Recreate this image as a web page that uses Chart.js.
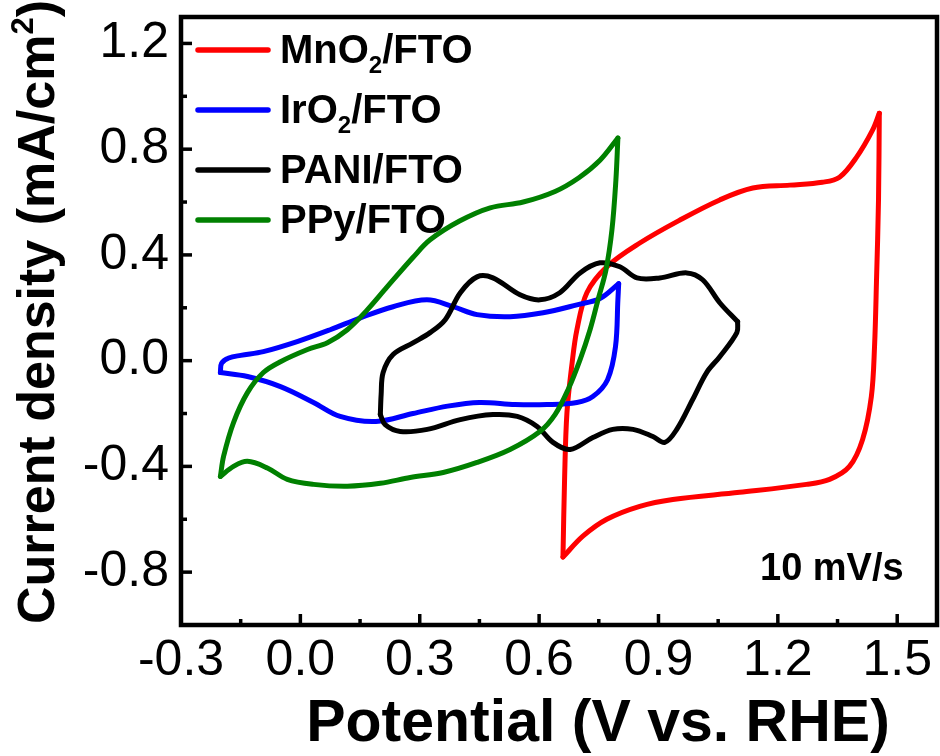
<!DOCTYPE html>
<html>
<head>
<meta charset="utf-8">
<script src="https://cdn.jsdelivr.net/npm/chart.js@4.4.1/dist/chart.umd.min.js"></script>
<style>
  html, body { margin: 0; padding: 0; background: #fff; }
  #wrap { width: 940px; height: 756px; }
</style>
</head>
<body>
<div id="wrap"><canvas id="cv" width="940" height="756"></canvas></div>
<script>
  // Axis ticks (potential in V vs. RHE, current density in mA/cm2)
  const xMajorTicks = [-0.3, 0, 0.3, 0.6, 0.9, 1.2, 1.5];
  const xMinorTicks = [-0.15, 0.15, 0.45, 0.75, 1.05, 1.35];
  const yMajorTicks = [-0.8, -0.4, 0, 0.4, 0.8, 1.2];
  const yMinorTicks = [-0.6, -0.2, 0.2, 0.6, 1.0];

  const seriesNames = ['MnO_{2}/FTO', 'IrO_{2}/FTO', 'PANI/FTO', 'PPy/FTO'];
  const seriesColors = ['#ff0000', '#0000ff', '#000000', '#008000'];

  // CV loops, split into forward (anodic) and reverse (cathodic) sweeps: [E, j]
  const mno2Forward = [[0.660, -0.743], [0.664, -0.45], [0.670, -0.196], [0.683, -0.008], [0.695, 0.117],
    [0.720, 0.257], [0.770, 0.355], [0.853, 0.445], [0.954, 0.532], [1.054, 0.608], [1.137, 0.653],
    [1.230, 0.664], [1.312, 0.675], [1.355, 0.694], [1.398, 0.770], [1.438, 0.872], [1.455, 0.936]];
  const mno2Reverse = [[1.455, 0.936], [1.453, 0.608], [1.448, 0.306], [1.443, 0.053], [1.435, -0.136],
    [1.413, -0.298], [1.380, -0.400], [1.330, -0.449], [1.272, -0.468], [1.104, -0.498], [0.936, -0.525],
    [0.853, -0.551], [0.770, -0.600], [0.710, -0.664], [0.660, -0.743]];

  const iro2Forward = [[-0.201, -0.045], [-0.198, -0.010], [-0.180, 0.010], [-0.150, 0.020], [-0.093, 0.034],
    [-0.008, 0.072], [0.075, 0.117], [0.151, 0.162], [0.233, 0.204], [0.318, 0.230], [0.384, 0.204],
    [0.444, 0.174], [0.527, 0.166], [0.610, 0.181], [0.695, 0.211], [0.753, 0.235], [0.800, 0.291]];
  const iro2Reverse = [[0.800, 0.291], [0.798, 0.230], [0.792, 0.053], [0.772, -0.072], [0.735, -0.136],
    [0.695, -0.158], [0.620, -0.166], [0.540, -0.166], [0.450, -0.158], [0.370, -0.172], [0.283, -0.200],
    [0.190, -0.230], [0.100, -0.211], [0.033, -0.158], [-0.050, -0.098], [-0.133, -0.060], [-0.201, -0.045]];

  const paniForward = [[0.201, -0.204], [0.203, -0.128], [0.208, -0.045], [0.233, 0.023], [0.284, 0.068],
    [0.326, 0.106], [0.364, 0.155], [0.402, 0.257], [0.444, 0.317], [0.484, 0.313], [0.552, 0.249],
    [0.602, 0.230], [0.652, 0.257], [0.703, 0.332], [0.753, 0.370], [0.803, 0.355], [0.846, 0.313],
    [0.903, 0.313], [0.971, 0.332], [1.011, 0.306], [1.054, 0.219], [1.099, 0.147]];
  const paniReverse = [[1.099, 0.147], [1.097, 0.106], [1.054, 0.015], [1.021, -0.045], [0.986, -0.147],
    [0.946, -0.260], [0.916, -0.309], [0.886, -0.287], [0.836, -0.260], [0.785, -0.260], [0.735, -0.291],
    [0.678, -0.336], [0.635, -0.309], [0.595, -0.249], [0.545, -0.211], [0.484, -0.204], [0.402, -0.223],
    [0.319, -0.260], [0.251, -0.268], [0.213, -0.242], [0.201, -0.204]];

  const ppyForward = [[-0.201, -0.438], [-0.193, -0.362], [-0.168, -0.234], [-0.133, -0.121], [-0.093, -0.045],
    [-0.050, -0.004], [0.018, 0.042], [0.068, 0.068], [0.118, 0.117], [0.168, 0.192], [0.218, 0.279],
    [0.284, 0.392], [0.326, 0.457], [0.400, 0.528], [0.477, 0.578], [0.560, 0.600], [0.640, 0.640],
    [0.700, 0.692], [0.753, 0.758], [0.798, 0.842]];
  const ppyReverse = [[0.798, 0.842], [0.793, 0.683], [0.783, 0.494], [0.768, 0.343], [0.748, 0.230],
    [0.728, 0.117], [0.703, 0.004], [0.673, -0.109], [0.640, -0.204], [0.602, -0.268], [0.527, -0.336],
    [0.444, -0.385], [0.359, -0.423], [0.276, -0.442], [0.201, -0.464], [0.118, -0.475], [0.033, -0.468],
    [-0.033, -0.449], [-0.083, -0.406], [-0.133, -0.381], [-0.168, -0.400], [-0.201, -0.438]];

  const sweeps = [
    [mno2Forward, mno2Reverse],
    [iro2Forward, iro2Reverse],
    [paniForward, paniReverse],
    [ppyForward, ppyReverse]
  ];

  const FONT = "'Liberation Sans', Arial, Helvetica, sans-serif";

  // "MnO_{2}" -> subscript, "cm^{2}" -> superscript
  function richParts(str) {
    return str.split(/(_\{[^}]*\}|\^\{[^}]*\})/).filter(Boolean).map(s => {
      if (s[0] === '_') return { t: s.slice(2, -1), sub: true };
      if (s[0] === '^') return { t: s.slice(2, -1), sup: true };
      return { t: s };
    });
  }

  function drawRich(ctx, str, x, y, size, align) {
    const parts = richParts(str);
    const fontFor = p => `bold ${(p.sub || p.sup) ? Math.round(size * 0.6) : size}px ${FONT}`;
    let total = 0;
    parts.forEach(p => { ctx.font = fontFor(p); p.w = ctx.measureText(p.t).width; total += p.w; });
    let cx = align === 'center' ? x - total / 2 : x;
    ctx.textAlign = 'left';
    ctx.textBaseline = 'alphabetic';
    parts.forEach(p => {
      ctx.font = fontFor(p);
      const dy = p.sub ? size * 0.24 : p.sup ? -size * 0.4 : 0;
      ctx.fillText(p.t, cx, y + dy);
      cx += p.w;
    });
  }

  const decorations = {
    id: 'decorations',
    afterDatasetsDraw(chart) {
      const { ctx, chartArea: a, scales: { x, y } } = chart;
      ctx.save();
      ctx.strokeStyle = '#000';
      ctx.fillStyle = '#000';

      const seg = (x1, y1, x2, y2) => { ctx.beginPath(); ctx.moveTo(x1, y1); ctx.lineTo(x2, y2); ctx.stroke(); };

      // inward ticks on bottom and left axes
      ctx.lineWidth = 3.5;
      xMajorTicks.forEach(v => { const p = x.getPixelForValue(v); seg(p, a.bottom, p, a.bottom - 11); });
      xMinorTicks.forEach(v => { const p = x.getPixelForValue(v); seg(p, a.bottom, p, a.bottom - 6); });
      yMajorTicks.forEach(v => { const p = y.getPixelForValue(v); seg(a.left, p, a.left + 11, p); });
      yMinorTicks.forEach(v => { const p = y.getPixelForValue(v); seg(a.left, p, a.left + 6, p); });

      // box frame
      ctx.lineWidth = 4.5;
      ctx.strokeRect(a.left, a.top, a.right - a.left, a.bottom - a.top);

      // legend
      const rowY = [50, 110, 170, 220];
      ctx.lineCap = 'round';
      ctx.lineWidth = 5.5;
      seriesNames.forEach((name, i) => {
        ctx.strokeStyle = seriesColors[i];
        seg(198, rowY[i], 268, rowY[i]);
        ctx.fillStyle = '#000';
        drawRich(ctx, name, 280, rowY[i] + 13, 40, 'left');
      });

      // scan rate note
      drawRich(ctx, '10 mV/s', 760, 580, 38, 'left');

      // axis titles
      drawRich(ctx, 'Potential (V vs. RHE)', 598, 741, 59, 'center');
      ctx.translate(54, 312);
      ctx.rotate(-Math.PI / 2);
      drawRich(ctx, 'Current density (mA/cm^{2})', 0, 0, 52, 'center');
      ctx.restore();
    }
  };

  const datasets = sweeps.flatMap((pair, i) => pair.map(sweep => ({
    label: seriesNames[i],
    data: sweep.map(([x, y]) => ({ x, y })),
    borderColor: seriesColors[i],
    backgroundColor: seriesColors[i],
    borderWidth: 5,
    pointRadius: 0,
    showLine: true,
    tension: 0.35,
    fill: false,
    borderCapStyle: 'round',
    borderJoinStyle: 'round',
    order: 3 - i
  })));

  const tickFont = { family: FONT, size: 50 };

  new Chart(document.getElementById('cv').getContext('2d'), {
    type: 'scatter',
    data: { datasets },
    plugins: [decorations],
    options: {
      responsive: false,
      devicePixelRatio: 1,
      animation: false,
      events: [],
      layout: { padding: { top: 17, right: 3, left: 0, bottom: 0 } },
      plugins: { legend: { display: false }, tooltip: { enabled: false } },
      scales: {
        x: {
          type: 'linear',
          min: -0.3,
          max: 1.6,
          grid: { display: false, drawTicks: false },
          border: { display: false },
          ticks: { font: tickFont, color: '#000', padding: 6, maxRotation: 0, autoSkip: false,
                   callback: v => v.toFixed(1) },
          afterBuildTicks: s => { s.ticks = xMajorTicks.map(v => ({ value: v })); },
          afterFit: s => { s.height = 131; s.paddingLeft = 0; s.paddingRight = 0; }
        },
        y: {
          type: 'linear',
          min: -1.0,
          max: 1.3,
          grid: { display: false, drawTicks: false },
          border: { display: false },
          ticks: { font: tickFont, color: '#000', padding: 12, autoSkip: false,
                   callback: v => v.toFixed(1) },
          afterBuildTicks: s => { s.ticks = yMajorTicks.map(v => ({ value: v })); },
          afterFit: s => { s.width = 181; s.paddingTop = 0; s.paddingBottom = 0; }
        }
      }
    }
  });
</script>
</body>
</html>
